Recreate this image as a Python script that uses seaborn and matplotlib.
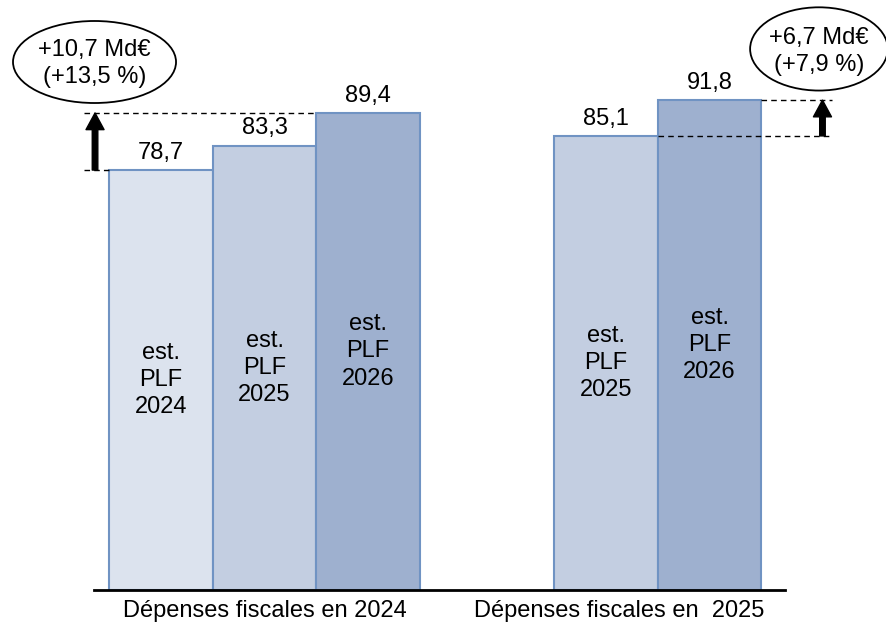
import matplotlib
matplotlib.use('Agg')
import matplotlib.pyplot as plt
import seaborn as sns
import pandas as pd
from matplotlib.patches import Ellipse

# data
groups = ['Dépenses fiscales en 2024', 'Dépenses fiscales en  2025']
group_ticks = [1, 4.43]
editions = ['PLF 2024', 'PLF 2025', 'PLF 2026', 'PLF 2025', 'PLF 2026']
bar_text = ['est.\nPLF\n2024', 'est.\nPLF\n2025', 'est.\nPLF\n2026', 'est.\nPLF\n2025', 'est.\nPLF\n2026']
values = [78.7, 83.3, 89.4, 85.1, 91.8]
positions = [0, 1, 2, 4.3, 5.3]
deltas = ['+10,7 Md€\n(+13,5 %)', '+6,7 Md€\n(+7,9 %)']

palette = {'PLF 2024': '#DCE3EE', 'PLF 2025': '#C3CEE1', 'PLF 2026': '#9EB0CF'}
edge = '#7093C3'
fs = 17

sns.set_style('white')
plt.rcParams['font.family'] = ['Liberation Sans', 'DejaVu Sans']
plt.rcParams['text.color'] = 'black'
plt.rcParams['xtick.color'] = 'black'

df = pd.DataFrame({'pos': positions, 'value': values, 'edition': editions, 'txt': bar_text})

fig = plt.figure(figsize=(8.87, 6.26), dpi=100)
ax = fig.add_axes([94/887, 36/626, 691/887, 590/626])

sns.barplot(data=df, x='pos', y='value', hue='edition', palette=palette,
            native_scale=True, dodge=False, width=1, saturation=1,
            edgecolor=edge, linewidth=1.5, legend=False, ax=ax)

ax.set_xlim(-0.648, 6.028)
ax.set_ylim(0, 110.57)

for c in ax.containers:
    ax.bar_label(c, labels=[f'{v:.1f}'.replace('.', ',') for v in c.datavalues],
                 padding=4.5, fontsize=fs, color='black',
                 bbox=dict(fc='white', ec='none', pad=1.5))

for _, r in df.iterrows():
    ax.text(r['pos'], r['value'] / 2, r['txt'], ha='center', va='center',
            fontsize=fs, linespacing=1.3, color='black')

# dashed guide lines
dash = dict(ls=(0, (4, 3)), color='black', lw=1, clip_on=False, zorder=2)
ax.plot([-0.74, positions[2] - 0.5], [values[2], values[2]], **dash)
ax.plot([-0.74, positions[0] - 0.5], [values[0], values[0]], **dash)
ax.plot([positions[4] + 0.5, 6.48], [values[4], values[4]], **dash)
ax.plot([positions[4] - 0.5, 6.48], [values[3], values[3]], **dash)

# arrows
arrow = dict(arrowstyle='simple,head_length=0.6,head_width=0.65,tail_width=0.2',
             fc='black', ec='black', shrinkA=0, shrinkB=0, mutation_scale=20)
ax.annotate('', xy=(-0.638, values[2]), xytext=(-0.638, values[0]),
            arrowprops=arrow, annotation_clip=False)
ax.annotate('', xy=(6.39, values[4]), xytext=(6.39, values[3]),
            arrowprops=arrow, annotation_clip=False)

# ellipses with the increase
for (cx, cy, w, h, ty), t in zip([(-0.643, 98.95, 1.575, 15.37, 98.6),
                                  (6.356, 101.4, 1.33, 15.6, 101.0)], deltas):
    ax.add_patch(Ellipse((cx, cy), w, h, fc='white', ec='black', lw=1.3,
                         clip_on=False, zorder=4))
    ax.text(cx, ty, t, ha='center', va='center', fontsize=fs,
            linespacing=1.3, color='black', zorder=5)

ax.set_xticks(group_ticks, groups)
ax.set_yticks([])
ax.set_xlabel('')
ax.set_ylabel('')
ax.tick_params(axis='x', length=0, pad=7, labelsize=fs, labelcolor='black')
for s in ['left', 'top', 'right']:
    ax.spines[s].set_visible(False)
ax.spines['bottom'].set_color('black')
ax.spines['bottom'].set_linewidth(2)

fig.savefig('out.png', dpi=100)
